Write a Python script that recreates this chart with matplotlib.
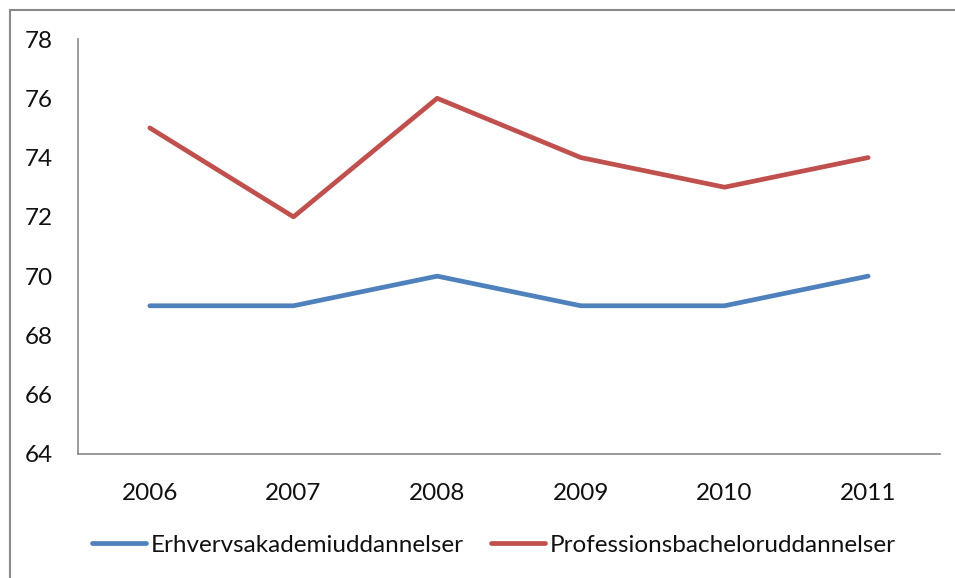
import matplotlib
matplotlib.use('Agg')
import matplotlib.pyplot as plt
from matplotlib.patches import Rectangle

years = ['2006', '2007', '2008', '2009', '2010', '2011']
erhverv = [69, 69, 70, 69, 69, 70]
profession = [75, 72, 76, 74, 73, 74]
y_ticks = [64, 66, 68, 70, 72, 74, 76, 78]

plt.rcParams['font.family'] = ['Lato', 'DejaVu Sans']

W, H = 955, 578
fig = plt.figure(figsize=(W / 100, H / 100), dpi=100)

# outer chart border (only left/top visible in the reference)
fig.patches.append(Rectangle((9.5 / W, -0.1), 1.2, 1.1 - 9.5 / H, transform=fig.transFigure,
                             fill=False, edgecolor='#898989', linewidth=1.5))

ax = fig.add_axes([78 / W, 1 - 454 / H, (940 - 78) / W, (454 - 39) / H])
x = range(len(years))
ax.plot(x, erhverv, color='#4F81BD', linewidth=3.4, solid_capstyle='round',
        label='Erhvervsakademiuddannelser')
ax.plot(x, profession, color='#C0504D', linewidth=3.4, solid_capstyle='round',
        label='Professionsbacheloruddannelser')

ax.set_xlim(-0.5, len(years) - 0.5)
ax.set_ylim(64, 78)
ax.set_yticks(y_ticks)
ax.set_xticks(list(x))
ax.set_xticklabels(years)
ax.tick_params(length=0, labelsize=17.5, labelcolor='#111111')
ax.tick_params(axis='y', pad=18)
ax.tick_params(axis='x', pad=21)
for s in ['top', 'right']:
    ax.spines[s].set_visible(False)
for s in ['left', 'bottom']:
    ax.spines[s].set_color('#898989')
    ax.spines[s].set_linewidth(1.2)

leg = ax.legend(loc='center', bbox_to_anchor=(494 / W, 1 - 545 / H), bbox_transform=fig.transFigure,
                ncol=2, frameon=False, fontsize=17.5, handlelength=2.2, handletextpad=0.2,
                columnspacing=1.15)
for t in leg.get_texts():
    t.set_color('#111111')

fig.savefig('out.png', dpi=100)
